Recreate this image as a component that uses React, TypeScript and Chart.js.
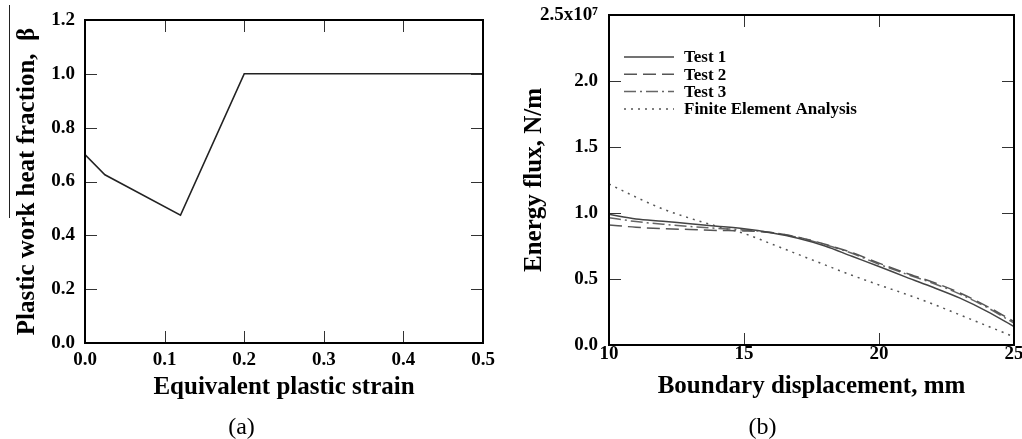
import React, { useEffect, useRef } from 'react';
import { Chart, registerables } from 'chart.js';

Chart.register(...registerables);

// ---------- Data: chart (a) ----------
const strain = [0, 0.025, 0.12, 0.2, 0.5];
const beta = [0.7, 0.625, 0.475, 1.0, 1.0];

// ---------- Data: chart (b) (energy flux in units of 1e7 N/m) ----------
const displacement = [10, 11, 12, 13, 14, 15, 16, 17, 18, 19, 20, 21, 22, 23, 24, 25];
const test1 = [0.99, 0.955, 0.938, 0.918, 0.9, 0.88, 0.85, 0.809, 0.75, 0.672, 0.595, 0.514, 0.437, 0.355, 0.255, 0.14];
const test2 = [0.91, 0.892, 0.882, 0.875, 0.868, 0.864, 0.852, 0.818, 0.763, 0.7, 0.62, 0.545, 0.476, 0.394, 0.293, 0.177];
const test3 = [0.965, 0.935, 0.915, 0.898, 0.884, 0.872, 0.853, 0.815, 0.76, 0.695, 0.612, 0.538, 0.468, 0.385, 0.285, 0.165];
const fea = [1.22, 1.12, 1.03, 0.96, 0.9, 0.845, 0.767, 0.687, 0.607, 0.528, 0.455, 0.385, 0.31, 0.228, 0.145, 0.062];
const fluxTickLabels = ['0.0', '0.5', '1.0', '1.5', '2.0', '2.5x10\u2077'];
const seriesLabels = ['Test 1', 'Test 2', 'Test 3', 'Finite Element Analysis'];

const SERIF = '"Liberation Serif", "Times New Roman", serif';

const frameTicks = {
  id: 'frameTicks',
  afterDatasetsDraw(chart: any) {
    const { ctx, chartArea } = chart;
    const { left, right, top, bottom } = chartArea;
    const x = chart.scales.x;
    const y = chart.scales.y;
    const L = 12;
    ctx.save();
    ctx.strokeStyle = '#333';
    ctx.lineWidth = 1;
    ctx.beginPath();
    x.ticks.forEach((t: any) => {
      const px = Math.round(x.getPixelForValue(t.value)) + 0.5;
      ctx.moveTo(px, bottom);
      ctx.lineTo(px, bottom - L);
      ctx.moveTo(px, top);
      ctx.lineTo(px, top + L);
    });
    y.ticks.forEach((t: any) => {
      const py = Math.round(y.getPixelForValue(t.value)) + 0.5;
      ctx.moveTo(left, py);
      ctx.lineTo(left + L, py);
      ctx.moveTo(right, py);
      ctx.lineTo(right - L, py);
    });
    ctx.stroke();
    ctx.strokeStyle = '#000';
    ctx.lineWidth = 2;
    ctx.strokeRect(left, top, right - left, bottom - top);
    ctx.restore();
  },
};

const overline = {
  id: 'overline',
  afterDraw(chart: any) {
    const { ctx, chartArea } = chart;
    ctx.save();
    ctx.strokeStyle = '#222';
    ctx.lineWidth = 1;
    ctx.beginPath();
    ctx.moveTo(chartArea.left - 75.5, chartArea.top - 15);
    ctx.lineTo(chartArea.left - 75.5, chartArea.top + 198);
    ctx.stroke();
    ctx.restore();
  },
};

const insideLegend = {
  id: 'insideLegend',
  afterDraw(chart: any) {
    const { ctx, chartArea } = chart;
    const x0 = chartArea.left + 15;
    const x1 = x0 + 50;
    const tx = x1 + 10;
    ctx.save();
    ctx.font = `bold 17px ${SERIF}`;
    ctx.textBaseline = 'middle';
    ctx.textAlign = 'left';
    chart.data.datasets.forEach((ds: any, i: number) => {
      const ry = chartArea.top + 43 + i * 17.3;
      ctx.save();
      ctx.strokeStyle = ds.borderColor;
      ctx.lineWidth = ds.borderWidth;
      ctx.setLineDash(ds.borderDash || []);
      ctx.beginPath();
      ctx.moveTo(x0, ry - 1);
      ctx.lineTo(x1, ry - 1);
      ctx.stroke();
      ctx.restore();
      ctx.fillStyle = '#000';
      ctx.fillText(ds.label, tx, ry);
    });
    ctx.restore();
  },
};

const tickFont = { family: SERIF, size: 19, weight: 'bold' as const, lineHeight: 1.2 };
const titleFont = { family: SERIF, size: 25, weight: 'bold' as const, lineHeight: 1.2 };
const captionFont = { family: SERIF, size: 24, weight: 'normal' as const, lineHeight: 1.2 };

function makeLeftConfig(): any {
  return {
    type: 'line',
    data: {
      datasets: [
        {
          label: 'beta',
          data: strain.map((x, i) => ({ x, y: beta[i] })),
          borderColor: '#222',
          borderWidth: 1.5,
          pointRadius: 0,
          tension: 0,
          fill: false,
        },
      ],
    },
    options: {
      responsive: false,
      animation: false,
      devicePixelRatio: 1,
      layout: { padding: { left: 0, right: 28, top: 20, bottom: 0 } },
      plugins: {
        legend: { display: false },
        tooltip: { enabled: false },
        title: {
          display: true,
          position: 'bottom',
          text: '(a)',
          color: '#000',
          font: captionFont,
          padding: { top: 3, bottom: -3 },
        },
      },
      scales: {
        x: {
          type: 'linear',
          min: 0,
          max: 0.5,
          grid: { display: false, drawTicks: false },
          border: { display: false },
          ticks: {
            stepSize: 0.1,
            padding: 6,
            color: '#000',
            font: tickFont,
            maxRotation: 0,
            autoSkip: false,
            callback: (v: any) => Number(v).toFixed(1),
          },
          title: {
            display: true,
            text: 'Equivalent plastic strain',
            color: '#000',
            font: titleFont,
            padding: { top: 0, bottom: 7.6 },
          },
          afterFit: (s: any) => {
            s.height = 67.2;
            s.paddingLeft = 0;
            s.paddingRight = 0;
          },
        },
        y: {
          type: 'linear',
          min: 0,
          max: 1.2,
          grid: { display: false, drawTicks: false },
          border: { display: false },
          ticks: {
            stepSize: 0.2,
            padding: 10,
            color: '#000',
            font: tickFont,
            autoSkip: false,
            callback: (v: any) => Number(v).toFixed(1),
          },
          title: {
            display: true,
            text: 'Plastic work heat fraction,  \u03B2',
            color: '#000',
            font: titleFont,
            padding: { top: 13, bottom: 0 },
          },
          afterFit: (s: any) => {
            s.width = 85;
            s.paddingTop = 0;
            s.paddingBottom = 0;
          },
        },
      },
    },
    plugins: [frameTicks, overline],
  };
}

function makeRightConfig(): any {
  const series = [test1, test2, test3, fea];
  const colors = ['#444', '#555', '#666', '#555'];
  const dashes = [[], [13, 6], [12, 4, 2, 4], [2, 5]];
  return {
    type: 'line',
    data: {
      datasets: series.map((s, k) => ({
        label: seriesLabels[k],
        data: displacement.map((x, i) => ({ x, y: s[i] })),
        borderColor: colors[k],
        borderWidth: 1.5,
        borderDash: dashes[k],
        pointRadius: 0,
        cubicInterpolationMode: 'monotone',
        fill: false,
      })),
    },
    options: {
      responsive: false,
      animation: false,
      devicePixelRatio: 1,
      layout: { padding: { left: 0, right: 8, top: 15, bottom: 0 } },
      plugins: {
        legend: { display: false },
        tooltip: { enabled: false },
        title: {
          display: true,
          position: 'bottom',
          text: '(b)',
          color: '#000',
          font: captionFont,
          padding: { top: 3, bottom: -3 },
        },
      },
      scales: {
        x: {
          type: 'linear',
          min: 10,
          max: 25,
          grid: { display: false, drawTicks: false },
          border: { display: false },
          ticks: {
            stepSize: 5,
            padding: -2.4,
            color: '#000',
            font: tickFont,
            maxRotation: 0,
            autoSkip: false,
            callback: (v: any) => String(v),
          },
          title: {
            display: true,
            text: 'Boundary displacement, mm',
            color: '#000',
            font: titleFont,
            padding: { top: 0, bottom: 8.8 },
          },
          afterFit: (s: any) => {
            s.height = 65.2;
            s.paddingLeft = 0;
            s.paddingRight = 0;
          },
        },
        y: {
          type: 'linear',
          min: 0,
          max: 2.5,
          grid: { display: false, drawTicks: false },
          border: { display: false },
          ticks: {
            stepSize: 0.5,
            padding: 11,
            color: '#000',
            font: tickFont,
            autoSkip: false,
            callback: (_v: any, i: number) => fluxTickLabels[i],
          },
          title: {
            display: true,
            text: 'Energy flux, N/m',
            color: '#000',
            font: titleFont,
            padding: { top: 8.4, bottom: 0 },
          },
          afterFit: (s: any) => {
            s.width = 98;
            s.paddingTop = 0;
            s.paddingBottom = 0;
          },
        },
      },
    },
    plugins: [frameTicks, insideLegend],
  };
}

function ChartCanvas({ make, left }: { make: () => any; left: number }) {
  const ref = useRef<HTMLCanvasElement | null>(null);
  useEffect(() => {
    if (!ref.current) return;
    const chart = new Chart(ref.current, make());
    return () => chart.destroy();
  }, [make]);
  return (
    <div style={{ position: 'absolute', left, top: 0, width: 511, height: 439 }}>
      <canvas ref={ref} width={511} height={439} style={{ display: 'block', width: 511, height: 439 }} />
    </div>
  );
}

export default function App() {
  return (
    <div style={{ position: 'fixed', left: 0, top: 0, width: 1022, height: 439, background: '#fff', overflow: 'hidden' }}>
      <ChartCanvas make={makeLeftConfig} left={0} />
      <ChartCanvas make={makeRightConfig} left={511} />
    </div>
  );
}
